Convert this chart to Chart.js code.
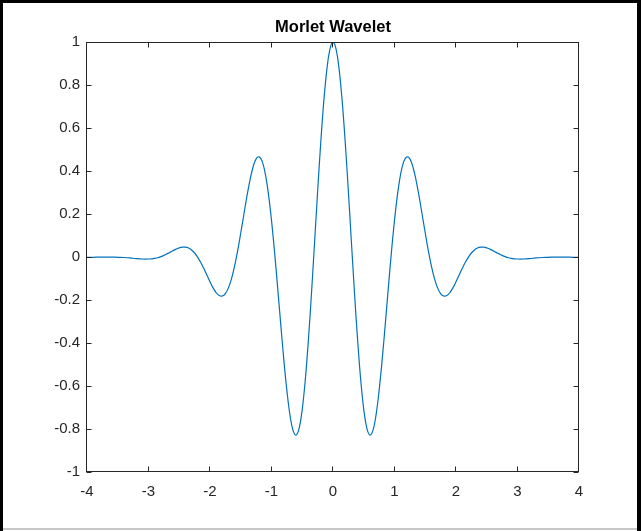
<!DOCTYPE html>
<html>
<head>
<meta charset="utf-8">
<script src="https://cdn.jsdelivr.net/npm/chart.js@4"></script>
<style>
  html, body { margin: 0; padding: 0; background: #fff; }
  #wrap { width: 641px; height: 531px; }
</style>
</head>
<body>
<div id="wrap"><canvas id="myChart" width="641" height="531"></canvas></div>
<script>
// sample positions along x
var xValues = [
  -4, -3.9, -3.8, -3.7, -3.6, -3.5, -3.4, -3.3, -3.2, -3.1,
  -3, -2.95, -2.9, -2.85, -2.8, -2.75, -2.7, -2.65, -2.6, -2.55,
  -2.5, -2.45, -2.4, -2.35, -2.3, -2.25, -2.2, -2.15, -2.1, -2.05,
  -2, -1.95, -1.9, -1.85, -1.8, -1.75, -1.7, -1.65, -1.6, -1.55,
  -1.5, -1.45, -1.4, -1.35, -1.3, -1.25, -1.2, -1.15, -1.1, -1.05,
  -1, -0.95, -0.9, -0.85, -0.8, -0.75, -0.7, -0.65, -0.6, -0.55,
  -0.5, -0.45, -0.4, -0.35, -0.3, -0.25, -0.2, -0.15, -0.1, -0.05,
  0,
  0.05, 0.1, 0.15, 0.2, 0.25, 0.3, 0.35, 0.4, 0.45, 0.5,
  0.55, 0.6, 0.65, 0.7, 0.75, 0.8, 0.85, 0.9, 0.95, 1,
  1.05, 1.1, 1.15, 1.2, 1.25, 1.3, 1.35, 1.4, 1.45, 1.5,
  1.55, 1.6, 1.65, 1.7, 1.75, 1.8, 1.85, 1.9, 1.95, 2,
  2.05, 2.1, 2.15, 2.2, 2.25, 2.3, 2.35, 2.4, 2.45, 2.5,
  2.55, 2.6, 2.65, 2.7, 2.75, 2.8, 2.85, 2.9, 2.95, 3,
  3.1, 3.2, 3.3, 3.4, 3.5, 3.6, 3.7, 3.8, 3.9, 4
];
// wavelet amplitude at each x
var yValues = [
  0.000, 0.000, 0.001, 0.001, 0.001, 0.000, -0.001, -0.003, -0.006, -0.008,
  -0.008, -0.007, -0.005, -0.002, 0.003, 0.009, 0.016, 0.023, 0.031, 0.038,
  0.044, 0.047, 0.047, 0.043, 0.034, 0.020, 0.000, -0.024, -0.052, -0.083,
  -0.114, -0.142, -0.164, -0.178, -0.180, -0.169, -0.142, -0.099, -0.040, 0.031,
  0.113, 0.198, 0.283, 0.359, 0.420, 0.458, 0.467, 0.445, 0.387, 0.295,
  0.172, 0.024, -0.141, -0.311, -0.475, -0.619, -0.733, -0.805, -0.827, -0.795,
  -0.707, -0.568, -0.384, -0.168, 0.068, 0.306, 0.530, 0.724, 0.873, 0.968,
  1.000,
  0.968, 0.873, 0.724, 0.530, 0.306, 0.068, -0.168, -0.384, -0.568, -0.707,
  -0.795, -0.827, -0.805, -0.733, -0.619, -0.475, -0.311, -0.141, 0.024, 0.172,
  0.295, 0.387, 0.445, 0.467, 0.458, 0.420, 0.359, 0.283, 0.198, 0.113,
  0.031, -0.040, -0.099, -0.142, -0.169, -0.180, -0.178, -0.164, -0.142, -0.114,
  -0.083, -0.052, -0.024, 0.000, 0.020, 0.034, 0.043, 0.047, 0.047, 0.044,
  0.038, 0.031, 0.023, 0.016, 0.009, 0.003, -0.002, -0.005, -0.007, -0.008,
  -0.008, -0.006, -0.003, -0.001, 0.000, 0.001, 0.001, 0.001, 0.000, 0.000
];
var xTicks = [-4, -3, -2, -1, 0, 1, 2, 3, 4];
var xTickLabels = ['-4', '-3', '-2', '-1', '0', '1', '2', '3', '4'];
var yTicks = [-1, -0.8, -0.6, -0.4, -0.2, 0, 0.2, 0.4, 0.6, 0.8, 1];
var yTickLabels = ['-1', '-0.8', '-0.6', '-0.4', '-0.2', '0', '0.2', '0.4', '0.6', '0.8', '1'];

var axisColor = '#262626';
var fontFam = '"Liberation Sans", Arial, Helvetica, sans-serif';

var points = xValues.map(function (x, i) { return { x: x, y: yValues[i] }; });

// box around the axes, inward tick marks, and the window frame
var boxPlugin = {
  id: 'boxTicks',
  afterDraw: function (chart) {
    var ctx = chart.ctx;
    var a = chart.chartArea;
    var xs = chart.scales.x, ys = chart.scales.y;
    var L = Math.round(a.left) - 0.5, R = Math.round(a.right) - 0.5;
    var T = Math.round(a.top) + 0.5, B = Math.round(a.bottom) - 0.5;
    ctx.save();
    ctx.strokeStyle = axisColor;
    ctx.lineWidth = 1;
    ctx.strokeRect(L, T, R - L, B - T);
    ctx.beginPath();
    xTicks.forEach(function (v) {
      var px = Math.round(xs.getPixelForValue(v)) - 0.5;
      ctx.moveTo(px, B); ctx.lineTo(px, B - 5);
      ctx.moveTo(px, T); ctx.lineTo(px, T + 5);
    });
    yTicks.forEach(function (v) {
      var py = Math.round(ys.getPixelForValue(v)) + 0.5;
      ctx.moveTo(L, py); ctx.lineTo(L + 5, py);
      ctx.moveTo(R, py); ctx.lineTo(R - 5, py);
    });
    ctx.stroke();
    // outer frame
    ctx.fillStyle = '#000';
    ctx.fillRect(0, 0, chart.width, 3);
    ctx.fillRect(0, 0, 3, chart.height);
    ctx.fillRect(chart.width - 4, 0, 4, chart.height);
    ctx.fillStyle = '#c8c8c8';
    ctx.fillRect(3, chart.height - 3, chart.width - 7, 2);
    ctx.restore();
  }
};

new Chart('myChart', {
  type: 'line',
  data: {
    datasets: [{
      data: points,
      borderColor: '#0072BD',
      borderWidth: 1.2,
      pointRadius: 0,
      tension: 0.4,
      fill: false
    }]
  },
  options: {
    responsive: false,
    animation: false,
    events: [],
    layout: { padding: { top: 17.5, left: 0, right: 62, bottom: 0 } },
    plugins: {
      legend: { display: false },
      tooltip: { enabled: false },
      title: {
        display: true,
        fullSize: false,
        text: 'Morlet Wavelet',
        color: '#000',
        font: { family: fontFam, size: 16.5, weight: 'bold' },
        padding: { top: 0, bottom: 5 }
      }
    },
    scales: {
      x: {
        type: 'linear',
        min: -4,
        max: 4,
        afterBuildTicks: function (scale) {
          scale.ticks = xTicks.map(function (v) { return { value: v }; });
        },
        afterFit: function (scale) { scale.height = 58.7; },
        grid: { display: false, drawTicks: false },
        border: { display: false },
        ticks: {
          color: axisColor,
          font: { family: fontFam, size: 15 },
          padding: 11,
          maxRotation: 0,
          autoSkip: false,
          callback: function (v, i) { return xTickLabels[i]; }
        }
      },
      y: {
        type: 'linear',
        min: -1,
        max: 1,
        afterBuildTicks: function (scale) {
          scale.ticks = yTicks.map(function (v) { return { value: v }; });
        },
        afterFit: function (scale) { scale.width = 87; },
        grid: { display: false, drawTicks: false },
        border: { display: false },
        ticks: {
          color: axisColor,
          font: { family: fontFam, size: 15 },
          padding: 7,
          autoSkip: false,
          callback: function (v, i) { return yTickLabels[i]; }
        }
      }
    }
  },
  plugins: [boxPlugin]
});
</script>
</body>
</html>
